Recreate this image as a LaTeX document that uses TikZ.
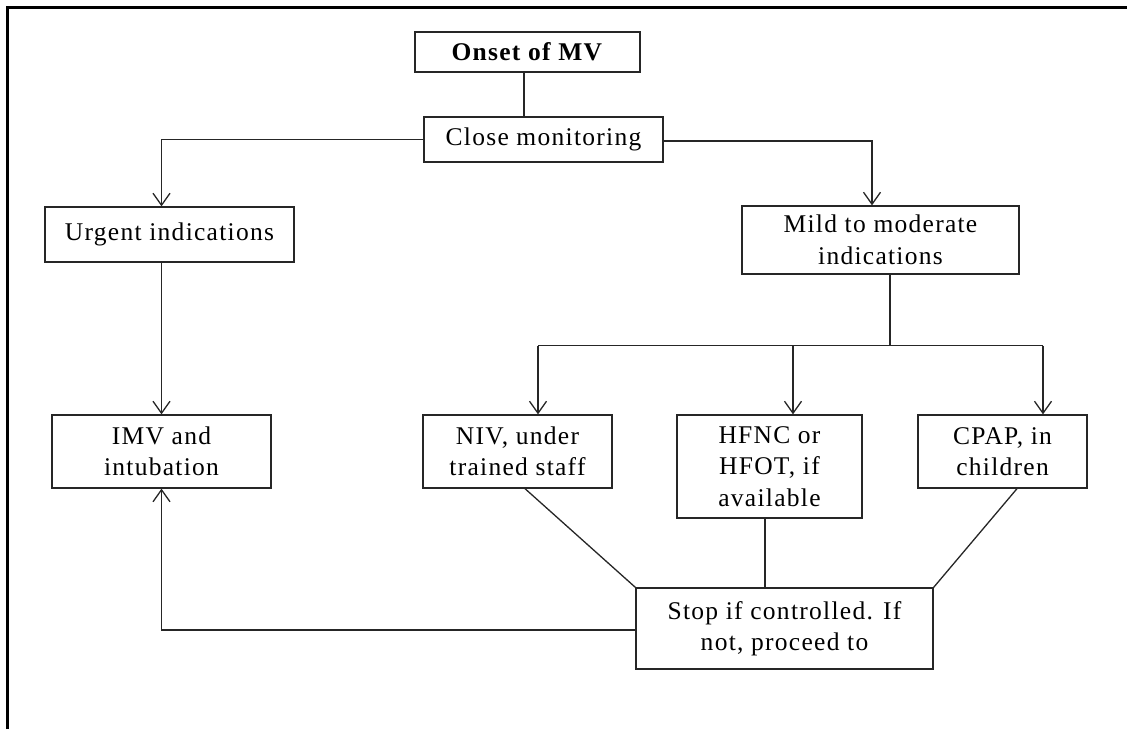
\documentclass[tikz,border=0pt]{standalone}
\usepackage{fontspec}
\setmainfont{Liberation Serif}[LetterSpace=5]
\usetikzlibrary{arrows.meta}
\tikzset{
  box/.style={draw=black!85, line width=1.3pt, inner sep=0pt, align=center,
    font=\fontsize{25.5}{31.5}\selectfont, text=black},
  conn/.style={draw=black!85, line width=1.3pt},
  arr/.style={conn, -{Straight Barb[length=12pt,width=17pt,line width=1.3pt]}},
  frame/.style={draw=black, line width=3pt}
}
\begin{document}
\begin{tikzpicture}[x=1pt,y=-1pt]
\useasboundingbox (0,0) rectangle (1127,729);
% outer frame
\draw[frame] (7,729) -- (7,7.5) -- (1127,7.5);
% nodes
\node[box, minimum width=225pt, minimum height=40pt] (onset) at (527.5,52) {\textbf{Onset of MV}};
\node[box, minimum width=239pt, minimum height=45pt] (close) at (543.5,139.5) {Close monitoring};
\node[box, minimum width=249pt, minimum height=55pt] (urgent) at (169.5,234.5) {Urgent indications};
\node[box, minimum width=277pt, minimum height=68pt] (mild) at (880.5,240) {Mild to moderate\\indications};
\node[box, minimum width=219pt, minimum height=73pt] (imv) at (161.5,451.5) {IMV and\\intubation};
\node[box, minimum width=189pt, minimum height=73pt] (niv) at (517.5,451.5) {NIV, under\\trained staff};
\node[box, minimum width=185pt, minimum height=103pt] (hfnc) at (769.5,466.5) {HFNC or\\HFOT, if\\available};
\node[box, minimum width=169pt, minimum height=73pt] (cpap) at (1002.5,451.5) {CPAP, in\\children};
\node[box, minimum width=297pt, minimum height=81pt] (stop) at (784.5,628.5) {Stop if controlled. If\\not, proceed to};
% connectors
\draw[conn] ([xshift=-3.5pt]onset.south) -- ([xshift=-3.5pt]onset.south |- close.north);
\draw[arr] (close.west) -| (imv.north |- urgent.north);
\draw[arr] (imv.north |- urgent.south) -- (imv.north);
\draw[arr] ([yshift=-1.5pt]close.east) -| ([xshift=-8.5pt]mild.north);
\coordinate (bus) at ([xshift=9.5pt,yshift=-71pt]mild.south);
\draw[conn] ([xshift=9.5pt]mild.south) -- (bus);
\draw[arr] ([xshift=20.5pt]niv.north |- bus) -| ([xshift=20.5pt]niv.north);
\draw[conn] ([xshift=20.5pt]niv.north |- bus) -- ([xshift=40.5pt]cpap.north |- bus);
\draw[arr] ([xshift=23.5pt]hfnc.north |- bus) -- ([xshift=23.5pt]hfnc.north);
\draw[arr] ([xshift=40.5pt]cpap.north |- bus) -- ([xshift=40.5pt]cpap.north);
\draw[conn] ([xshift=7.5pt]niv.south) -- (stop.north west);
\draw[conn] ([xshift=-4.5pt]hfnc.south) -- ([xshift=-4.5pt]hfnc.south |- stop.north);
\draw[conn] ([xshift=14.5pt]cpap.south) -- (stop.north east);
\draw[arr] ([yshift=-1.5pt]stop.west) -| (imv.south);
\end{tikzpicture}
\end{document}
